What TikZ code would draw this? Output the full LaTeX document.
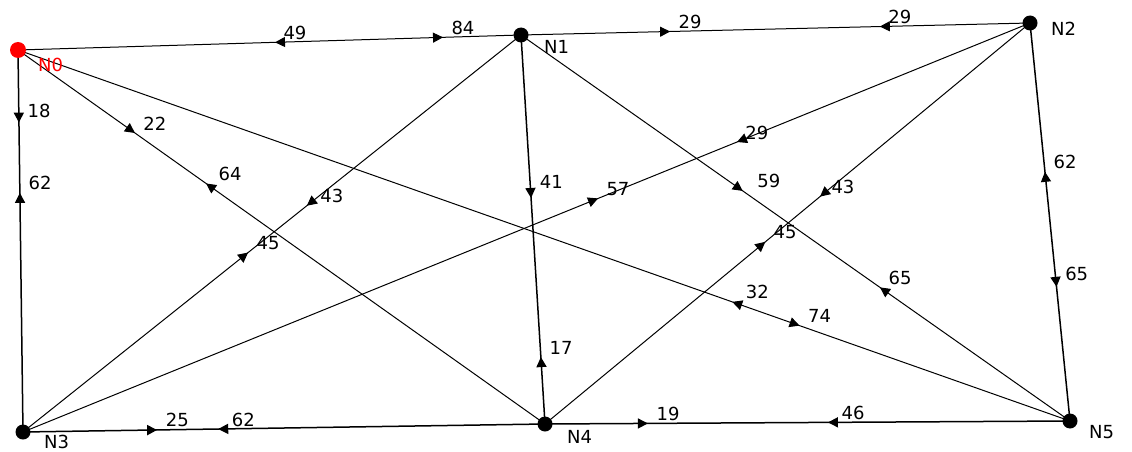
\documentclass[tikz,border=0pt]{standalone}
\usepackage{fontspec}
\setmainfont{DejaVu Sans}
\usetikzlibrary{arrows.meta,decorations.markings}
\pgfdeclarelayer{background}
\pgfsetlayers{background,main}
\tikzset{
  vtx/.style={circle, fill=black, inner sep=0pt, minimum size=15pt},
  vtxred/.style={circle, fill=red, inner sep=0pt, minimum size=16pt},
  edge/.style={line width=1pt, black},
  wlab/.style={font=\fontsize{18}{18}\selectfont, anchor=base west, inner sep=0pt, xshift=8pt, yshift=3pt},
  nlab/.style={font=\fontsize{18}{18}\selectfont, anchor=west, inner sep=0pt},
  fwd/.style={postaction={decorate, decoration={markings, mark=at position #1 with {\arrow{Triangle[length=10pt,width=10pt]}}}}},
  bwd/.style={postaction={decorate, decoration={markings, mark=at position #1 with {\arrowreversed{Triangle[length=10pt,width=10pt]}}}}},
}
\begin{document}
\begin{tikzpicture}[x=1pt,y=-1pt]
\useasboundingbox (0,0) rectangle (1132,452);
\node[vtxred] (N0) at (18,50) {};
\node[vtx] (N1) at (521,35) {};
\node[vtx] (N2) at (1030,23) {};
\node[vtx] (N3) at (23,432) {};
\node[vtx] (N4) at (545,424) {};
\node[vtx] (N5) at (1070,421) {};
\node[nlab, text=red] (L0) at (38,65) {N0};
\node[nlab] (L1) at (544,47) {N1};
\node[nlab] (L2) at (1051,29) {N2};
\node[nlab] (L3) at (44,442) {N3};
\node[nlab] (L4) at (567,437) {N4};
\node[nlab] (L5) at (1089,432) {N5};
\begin{pgfonlayer}{background}
\draw[edge, bwd=0.511, fwd=0.845] (N0.center) -- (N1.center)
  node[wlab,pos=0.511]{49} node[wlab,pos=0.845]{84};
\draw[edge, fwd=0.293, bwd=0.705] (N1.center) -- (N2.center)
  node[wlab,pos=0.293]{29} node[wlab,pos=0.705]{29};
\draw[edge, line width=1.5pt, fwd=0.19, bwd=0.374] (N0.center) -- (N3.center)
  node[wlab,pos=0.19,yshift=2pt]{18} node[wlab,pos=0.374]{62};
\draw[edge, fwd=0.222, bwd=0.357] (N0.center) -- (N4.center)
  node[wlab,pos=0.222]{22} node[wlab,pos=0.357,xshift=4pt]{64};
\draw[edge, bwd=0.679, fwd=0.743] (N0.center) -- (N5.center)
  node[wlab,pos=0.679,xshift=5pt]{32} node[wlab,pos=0.743]{74};
\draw[edge, fwd=0.43, bwd=0.548] (N1.center) -- (N3.center)
  node[wlab,pos=0.43,xshift=5pt]{43} node[wlab,pos=0.548]{45};
\draw[edge, line width=1.5pt, fwd=0.419, bwd=0.828] (N1.center) -- (N4.center)
  node[wlab,pos=0.419,yshift=6pt]{41} node[wlab,pos=0.828]{17};
\draw[edge, fwd=0.404, bwd=0.654] (N1.center) -- (N5.center)
  node[wlab,pos=0.404,xshift=6pt]{59} node[wlab,pos=0.654]{65};
\draw[edge, fwd=0.291, bwd=0.429] (N2.center) -- (N3.center)
  node[wlab,pos=0.291]{29} node[wlab,pos=0.429]{57};
\draw[edge, fwd=0.433, bwd=0.546] (N2.center) -- (N4.center)
  node[wlab,pos=0.433,xshift=3pt]{43} node[wlab,pos=0.546]{45};
\draw[edge, line width=1.5pt, bwd=0.374, fwd=0.663] (N2.center) -- (N5.center)
  node[wlab,pos=0.374]{62} node[wlab,pos=0.663,yshift=3pt]{65};
\draw[edge, line width=1.5pt, fwd=0.257, bwd=0.374] (N3.center) -- (N4.center)
  node[wlab,pos=0.257]{25} node[wlab,pos=0.374,xshift=5pt]{62};
\draw[edge, line width=1.5pt, fwd=0.196, bwd=0.539] (N4.center) -- (N5.center)
  node[wlab,pos=0.196]{19} node[wlab,pos=0.539,xshift=5pt]{46};
\end{pgfonlayer}
\end{tikzpicture}
\end{document}
